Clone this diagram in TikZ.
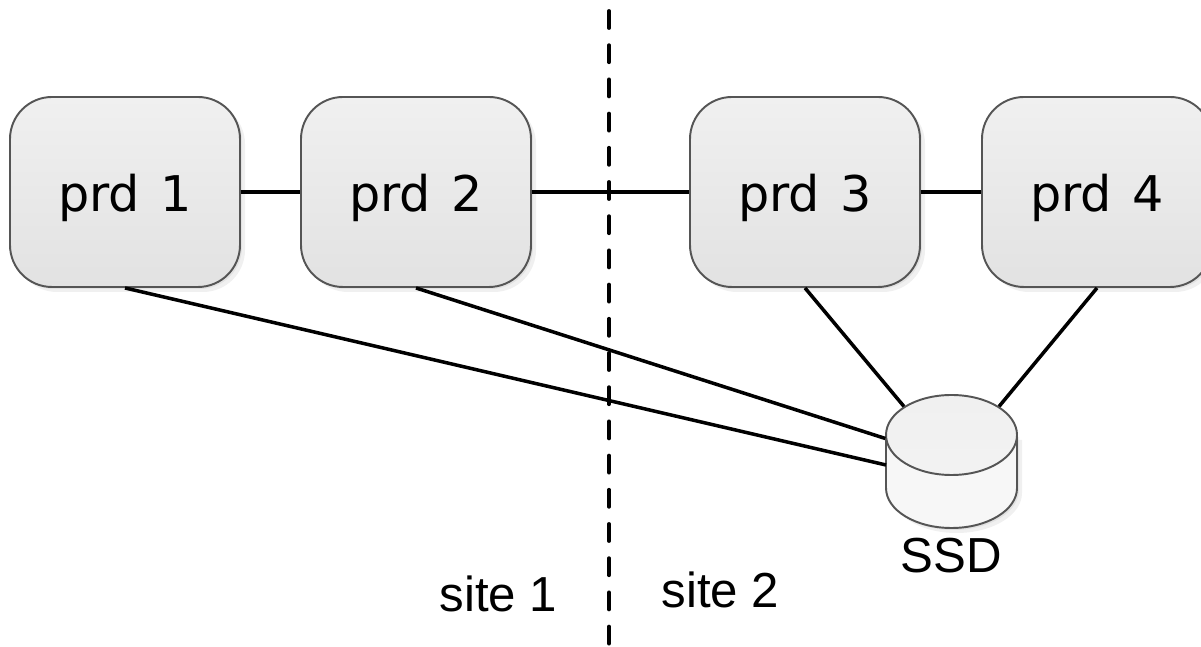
\documentclass[tikz,border=0pt]{standalone}
\usepackage{fontspec}
\setmainfont{Liberation Sans}
\newfontfamily\prdfont{DejaVu Sans}
\usetikzlibrary{shapes.geometric,shadows}
\definecolor{boxtop}{RGB}{240,240,240}
\definecolor{boxbottom}{RGB}{226,226,226}
\definecolor{edgegray}{RGB}{85,85,85}
\tikzset{
	softshadow/.style={drop shadow={shadow xshift=0.05cm,shadow yshift=-0.05cm,opacity=0.06,fill=black},drop shadow={shadow xshift=0.02cm,shadow yshift=-0.02cm,opacity=0.06,fill=black}},
	prdbox/.style={draw=edgegray,line width=0.55pt,rounded corners=0.42cm,minimum width=2.3cm,minimum height=1.9cm,text height=0.6cm,text depth=0.2cm,top color=boxtop,bottom color=boxbottom,font=\prdfont\fontsize{14}{16}\selectfont,softshadow},
	ssdlid/.style={draw=edgegray,line width=0.55pt,ellipse,inner sep=0pt,minimum width=1.31cm,minimum height=0.8cm,top color=boxtop,bottom color=white!95!black},
	ssdbody/.style={draw=edgegray,line width=0.55pt,fill=white!97!black,softshadow},
	link/.style={line width=1pt,black},
	divider/.style={line width=1.1pt,black,line cap=round,dash pattern=on 0.17cm off 0.172cm},
	sitelabel/.style={anchor=base,font=\fontsize{14}{16}\selectfont}
}
\begin{document}
\begin{tikzpicture}
	\useasboundingbox (0,0) rectangle (12.01,6.47);
	\clip (0,0) rectangle (12.01,6.47);
	\node[prdbox] (prd1) at (1.25,4.55){prd\hspace{0.1em} 1};
	\node[prdbox] (prd2) at (4.16,4.55){prd\hspace{0.1em} 2};
	\node[prdbox] (prd3) at (8.05,4.55){prd\hspace{0.1em} 3};
	\node[prdbox] (prd4) at (10.97,4.55){prd\hspace{0.1em} 4};
	\draw[ssdbody] (8.86,2.12) -- ++(0,-0.53) arc[start angle=180,end angle=360,x radius=0.655,y radius=0.4] -- ++(0,0.53) -- cycle;
	\node[ssdlid] (ssd) at (9.515,2.12){};
	\coordinate (ssdside) at (8.86,1.82);
	\node[sitelabel] (ssdlabel) at (9.51,0.74){SSD};
	\node[sitelabel] (site1) at (4.985,0.35){site 1};
	\node[sitelabel] (site2) at (7.205,0.39){site 2};
	\coordinate (divtop) at (6.09,6.36);
	\coordinate (divbottom) at (6.09,0);
	\draw[divider] (divtop) -- (divbottom);
	\draw[link] (prd1) -- (prd2);
	\draw[link] (prd2) -- (prd3);
	\draw[link] (prd3) -- (prd4);
	\draw[link] (prd1.south) -- (ssdside);
	\draw[link] (prd2.south) -- (ssd.183);
	\draw[link] (prd3.south) -- (ssd.149);
	\draw[link] (prd4.south) -- (ssd.31);
\end{tikzpicture}
\end{document}
